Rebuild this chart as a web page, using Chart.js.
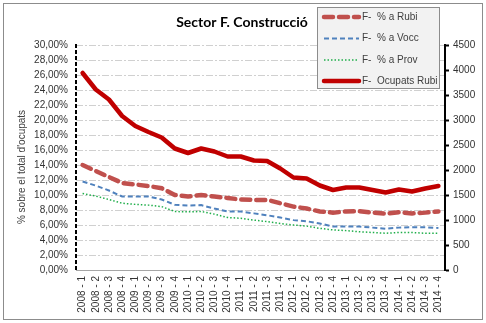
<!DOCTYPE html>
<html lang="ca">
<head>
<meta charset="UTF-8">
<title>Sector F. Construcció</title>
<script src="https://cdn.jsdelivr.net/npm/chart.js@4.4.0"></script>
<style>
  html, body { margin: 0; padding: 0; background: #fff; }
  #chart { display: block; }
</style>
</head>
<body>
<canvas id="chart" width="486" height="323"></canvas>
<script>
// dades
const quarters = [
  '2008 - 1', '2008 - 2', '2008 - 3', '2008 - 4',
  '2009 - 1', '2009 - 2', '2009 - 3', '2009 - 4',
  '2010 - 1', '2010 - 2', '2010 - 3', '2010 - 4',
  '2011 - 1', '2011 - 2', '2011 - 3', '2011 - 4',
  '2012 - 1', '2012 - 2', '2012 - 3', '2012 - 4',
  '2013 - 1', '2013 - 2', '2013 - 3', '2013 - 4',
  '2014 - 1', '2014 - 2', '2014 - 3', '2014 - 4'
];
const pctRubi = [14.0, 13.2, 12.4, 11.6, 11.4, 11.2, 10.9, 10.0, 9.8, 10.0, 9.8, 9.6, 9.4, 9.35,
                 9.35, 8.9, 8.45, 8.2, 7.8, 7.65, 7.8, 7.85, 7.65, 7.5, 7.7, 7.55, 7.65, 7.8];
const pctVocc = [11.8, 11.25, 10.6, 9.8, 9.8, 9.8, 9.4, 8.7, 8.6, 8.65, 8.2, 7.8, 7.8, 7.55,
                 7.3, 7.0, 6.65, 6.5, 6.2, 5.8, 5.8, 5.8, 5.65, 5.5, 5.65, 5.7, 5.7, 5.6];
const pctProv = [10.2, 9.85, 9.4, 8.9, 8.75, 8.65, 8.45, 7.8, 7.75, 7.8, 7.45, 7.0, 6.9, 6.65,
                 6.45, 6.2, 6.0, 5.85, 5.55, 5.35, 5.25, 5.1, 5.0, 4.9, 5.0, 5.0, 4.9, 4.9];
const ocupatsRubi = [3940, 3610, 3410, 3080, 2880, 2760, 2650, 2430, 2340, 2430, 2370, 2270, 2270, 2190,
                     2180, 2030, 1850, 1830, 1690, 1600, 1650, 1650, 1600, 1550, 1610, 1570, 1630, 1680];
const seriesNames = ['F-  % a Rubi', 'F-  % a Vocc', 'F-  % a Prov', 'F-  Ocupats Rubi'];
const pctTicks = { min: 0, max: 30, step: 2 };
const countTicks = { min: 0, max: 4500, step: 500 };

const chartTitle = 'Sector F. Construcció';
const yTitle = "% sobre el total d'ocupats";
const FONT = "'Liberation Sans', Arial, sans-serif";

// marc, títol, eix esquerre discontinu i llegenda
const decorPlugin = {
  id: 'decor',
  beforeDraw(chart) {
    const ctx = chart.ctx;
    ctx.save();
    ctx.fillStyle = '#ffffff';
    ctx.fillRect(0, 0, chart.width, chart.height);
    ctx.strokeStyle = '#8c8c8c';
    ctx.lineWidth = 1;
    ctx.strokeRect(3.5, 3.5, 479, 316);
    ctx.restore();
  },
  afterDraw(chart) {
    const ctx = chart.ctx;
    const area = chart.chartArea;
    ctx.save();

    // títol
    ctx.fillStyle = '#000';
    ctx.font = "bold 14px Lato, sans-serif";
    ctx.textAlign = 'center';
    ctx.textBaseline = 'middle';
    ctx.fillText(chartTitle, 242, 22);

    // títol eix Y
    ctx.save();
    ctx.translate(22, 167);
    ctx.rotate(-Math.PI / 2);
    ctx.font = '10px ' + FONT;
    ctx.fillStyle = '#404040';
    ctx.fillText(yTitle, 0, 0);
    ctx.restore();

    // eix esquerre discontinu
    ctx.beginPath();
    ctx.setLineDash([4, 2]);
    ctx.lineWidth = 2;
    ctx.strokeStyle = '#000';
    ctx.moveTo(area.left, area.top - 1);
    ctx.lineTo(area.left, area.bottom);
    ctx.stroke();
    ctx.setLineDash([]);

    // llegenda
    const lx = 317, ly = 7, lw = 122, lh = 81;
    ctx.fillStyle = '#f2f2f2';
    ctx.fillRect(lx, ly, lw, lh);
    ctx.strokeStyle = '#8c8c8c';
    ctx.lineWidth = 1;
    ctx.strokeRect(lx + 0.5, ly + 0.5, lw, lh);
    const rows = [17, 38.5, 60, 81];
    chart.data.datasets.forEach((ds, i) => {
      const y = rows[i];
      ctx.beginPath();
      ctx.setLineDash(ds.borderDash || []);
      ctx.lineWidth = ds.borderWidth;
      ctx.strokeStyle = ds.borderColor;
      ctx.lineCap = ds.borderCapStyle || 'butt';
      ctx.moveTo(324, y);
      ctx.lineTo(359, y);
      ctx.stroke();
      ctx.setLineDash([]);
      ctx.lineCap = 'butt';
      ctx.fillStyle = '#404040';
      ctx.font = '10px ' + FONT;
      ctx.textAlign = 'left';
      ctx.textBaseline = 'middle';
      ctx.fillText(ds.label, 362, y);
    });
    ctx.restore();
  }
};

const fmtPct = v => v.toFixed(2).replace('.', ',') + '%';

new Chart(document.getElementById('chart'), {
  type: 'line',
  data: {
    labels: quarters,
    datasets: [
      {
        label: seriesNames[0], data: pctRubi, yAxisID: 'y',
        borderColor: '#c0504d', borderWidth: 4.5, borderDash: [9, 6], borderCapStyle: 'round'
      },
      {
        label: seriesNames[1], data: pctVocc, yAxisID: 'y',
        borderColor: '#4f81bd', borderWidth: 2, borderDash: [5, 3]
      },
      {
        label: seriesNames[2], data: pctProv, yAxisID: 'y',
        borderColor: '#1fae4a', borderWidth: 1.5, borderDash: [1.5, 2]
      },
      {
        label: seriesNames[3], data: ocupatsRubi, yAxisID: 'y2',
        borderColor: '#c00000', borderWidth: 4.5, borderJoinStyle: 'round', borderCapStyle: 'round'
      }
    ]
  },
  options: {
    responsive: false,
    animation: false,
    events: [],
    layout: { padding: { top: 45, left: 3, right: 3, bottom: 0 } },
    elements: { point: { radius: 0 }, line: { tension: 0, fill: false } },
    plugins: { legend: { display: false }, title: { display: false }, tooltip: { enabled: false } },
    scales: {
      x: {
        offset: true,
        afterFit: s => { s.height = 53; },
        grid: { display: false, drawTicks: false },
        border: { display: true, color: '#a6a6a6', width: 1 },
        ticks: {
          autoSkip: false, minRotation: 90, maxRotation: 90, padding: 6,
          font: { family: FONT, size: 10 }, color: '#333333'
        }
      },
      y: {
        position: 'left',
        min: pctTicks.min, max: pctTicks.max,
        afterFit: s => { s.width = 73; },
        grid: {
          drawTicks: false,
          color: c => c.tick && c.tick.value === 0 ? 'rgba(0,0,0,0)' : '#d0d0d0'
        },
        border: { display: false, dash: [7, 2, 2, 2] },
        ticks: {
          stepSize: pctTicks.step, padding: 8,
          font: { family: FONT, size: 10 }, color: '#333333',
          callback: v => fmtPct(v)
        }
      },
      y2: {
        position: 'right',
        min: countTicks.min, max: countTicks.max,
        afterFit: s => { s.width = 38; },
        grid: { drawOnChartArea: false, drawTicks: true, tickLength: 4, tickColor: '#000', tickWidth: 2 },
        border: { display: true, color: '#000', width: 2 },
        ticks: {
          stepSize: countTicks.step, padding: 4,
          font: { family: FONT, size: 10 }, color: '#333333',
          callback: v => String(v)
        }
      }
    }
  },
  plugins: [decorPlugin]
});
</script>
</body>
</html>
